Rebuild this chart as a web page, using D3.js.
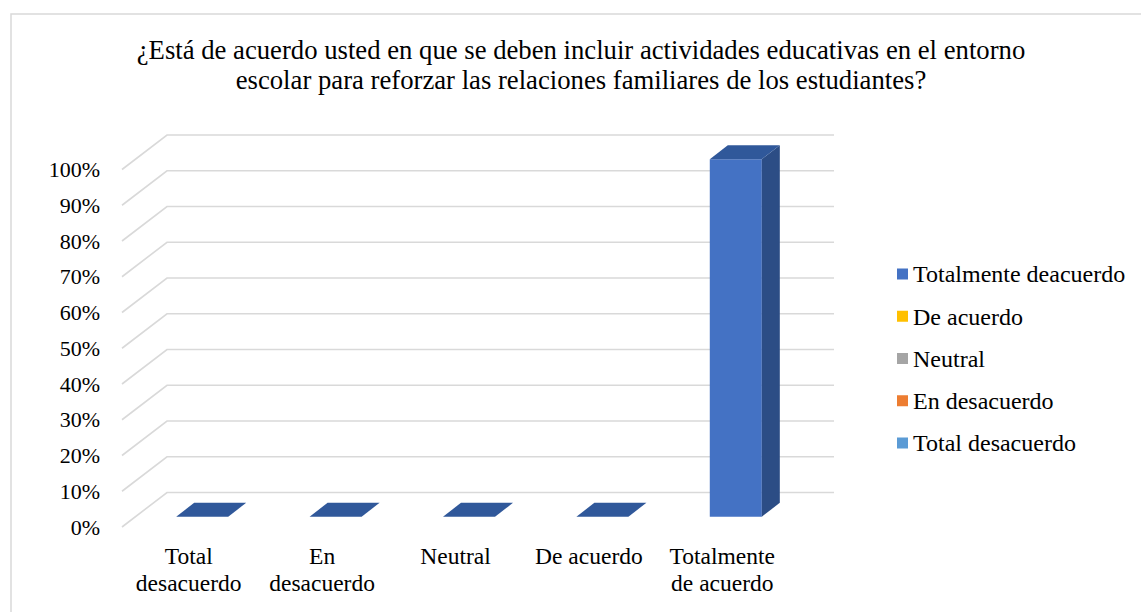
<!DOCTYPE html>
<html>
<head>
<meta charset="utf-8">
<script src="https://cdn.jsdelivr.net/npm/d3@7"></script>
<style>
  body { margin: 0; background: #fff; }
  svg text { font-family: "Liberation Serif", "Times New Roman", serif; fill: #000; }
</style>
</head>
<body>
<svg id="chart" width="1141" height="612"></svg>
<script>
// data
var categories = ["Total desacuerdo", "En desacuerdo", "Neutral", "De acuerdo", "Totalmente de acuerdo"];
var values = [0, 0, 0, 0, 1];
var yTicks = [0, 0.1, 0.2, 0.3, 0.4, 0.5, 0.6, 0.7, 0.8, 0.9, 1];
var legendLabels = ["Totalmente deacuerdo", "De acuerdo", "Neutral", "En desacuerdo", "Total desacuerdo"];
var legendColors = ["#4472C4", "#FFC000", "#A5A5A5", "#ED7D31", "#5B9BD5"];
var titleLines = ["¿Está de acuerdo usted en que se deben incluir actividades educativas en el entorno",
                  "escolar para reforzar las relaciones familiares de los estudiantes?"];

var svg = d3.select("#chart");

// 3d box: front plane and the depth offset
var depthX = 45, depthY = -34.5;
var x = d3.scaleBand().domain(categories).range([122, 789]).paddingInner(0).paddingOuter(0);
var y = d3.scaleLinear().domain([0, 1]).range([527, 169.5]);

// projects a point at depth z (0 = front, 1 = back)
function px(xv, z) { return xv + z * depthX; }
function py(yv, z) { return yv + z * depthY; }

// chart frame (only top and left edges show)
svg.append("path")
    .attr("d", "M11,612V14H1141")
    .attr("fill", "none")
    .attr("stroke", "#D9D9D9")
    .attr("stroke-width", 1.5);

// title
svg.append("g").selectAll("text")
    .data(titleLines)
    .join("text")
    .attr("x", 581)
    .attr("y", function (d, i) { return 59 + i * 30; })
    .attr("text-anchor", "middle")
    .style("font-size", "26.7px")
    .text(function (d) { return d; });

// gridlines: diagonal on the side wall, horizontal on the back wall
var grid = svg.append("g").attr("stroke", "#D9D9D9").attr("stroke-width", 1.6).attr("fill", "none");
grid.selectAll("path")
    .data(yTicks)
    .join("path")
    .attr("d", function (d) {
        var x0 = x.range()[0], x1 = x.range()[1];
        return "M" + px(x0, 0) + "," + py(y(d), 0) +
               "L" + px(x0, 1) + "," + py(y(d), 1) +
               "L" + px(x1, 1) + "," + py(y(d), 1);
    });

// y labels
svg.append("g").selectAll("text")
    .data(yTicks)
    .join("text")
    .attr("x", 100)
    .attr("y", function (d) { return y(d); })
    .attr("dy", "0.35em")
    .attr("text-anchor", "end")
    .style("font-size", "22px")
    .text(d3.format(".0%"));

// bars
var zFront = 0.3, zBack = 0.7, barFrac = 0.39;
var bars = svg.append("g").selectAll("g")
    .data(categories)
    .join("g");

bars.each(function (c, i) {
    var g = d3.select(this);
    var bw = x.bandwidth() * barFrac;
    var xl = x(c) + (x.bandwidth() - bw) / 2, xr = xl + bw;
    var y0 = y(0), y1 = y(values[i]);
    var pts = function (arr) { return arr.map(function (p) { return p.join(","); }).join(" "); };
    if (values[i] > 0) {
        // front
        g.append("polygon")
            .attr("points", pts([[px(xl, zFront), py(y1, zFront)], [px(xr, zFront), py(y1, zFront)],
                                 [px(xr, zFront), py(y0, zFront)], [px(xl, zFront), py(y0, zFront)]]))
            .attr("fill", "#4472C4");
        // side
        g.append("polygon")
            .attr("points", pts([[px(xr, zFront), py(y1, zFront)], [px(xr, zBack), py(y1, zBack)],
                                 [px(xr, zBack), py(y0, zBack)], [px(xr, zFront), py(y0, zFront)]]))
            .attr("fill", "#2C4D85");
    }
    // top
    g.append("polygon")
        .attr("points", pts([[px(xl, zFront), py(y1, zFront)], [px(xr, zFront), py(y1, zFront)],
                             [px(xr, zBack), py(y1, zBack)], [px(xl, zBack), py(y1, zBack)]]))
        .attr("fill", "#30589A");
});

// category labels, wrapped to the band width
var catLabels = svg.append("g").selectAll("text")
    .data(categories)
    .join("text")
    .attr("text-anchor", "middle")
    .style("font-size", "23.5px")
    .attr("x", function (d) { return x(d) + x.bandwidth() / 2; })
    .attr("y", 564);

catLabels.each(function (d) {
    var t = d3.select(this), words = d.split(" "), line = [];
    var cx = t.attr("x");
    var tspan = t.append("tspan").attr("x", cx).attr("dy", 0);
    words.forEach(function (w) {
        line.push(w);
        tspan.text(line.join(" "));
        if (tspan.node().getComputedTextLength() > x.bandwidth() - 8 && line.length > 1) {
            line.pop();
            tspan.text(line.join(" "));
            line = [w];
            tspan = t.append("tspan").attr("x", cx).attr("dy", 27).text(w);
        }
    });
});

// legend
var legend = svg.append("g").selectAll("g")
    .data(legendLabels)
    .join("g")
    .attr("transform", function (d, i) { return "translate(897," + (274 + i * 42.25) + ")"; });

legend.append("rect")
    .attr("x", 0)
    .attr("y", -5.5)
    .attr("width", 11)
    .attr("height", 11)
    .attr("fill", function (d, i) { return legendColors[i]; });

legend.append("text")
    .attr("x", 16)
    .attr("dy", "0.35em")
    .style("font-size", "24px")
    .text(function (d) { return d; });
</script>
</body>
</html>
